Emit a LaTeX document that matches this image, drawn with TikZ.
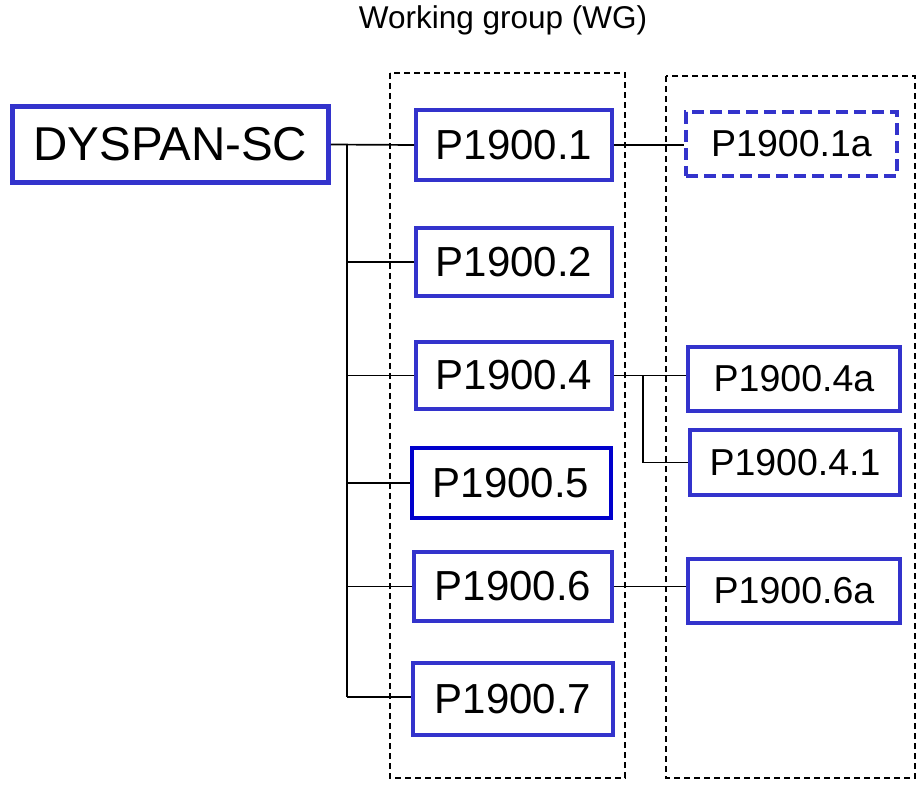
\documentclass[tikz,border=0pt]{standalone}
\usepackage{fontspec}
\setmainfont{Liberation Sans}
\definecolor{boxblue}{HTML}{3333CC}
\definecolor{deepblue}{HTML}{0000CC}
\begin{document}
\begin{tikzpicture}[x=1pt,y=-1pt,
  bbox/.style={draw=boxblue,line width=4pt,fill=white,inner sep=0pt,anchor=center},
  big/.style={font=\fontsize{42}{42}\selectfont},
  small/.style={font=\fontsize{37.5}{37.5}\selectfont},
  group/.style={draw=black,line width=1.4pt,dash pattern=on 6pt off 4pt},
  conn/.style={draw=black,line width=1.7pt}]
\useasboundingbox (0,0) rectangle (922,786);
% group boxes
\draw[group] (390,73) rectangle (625,778);
\draw[group] (666,76) rectangle (915,778);
\node[font=\fontsize{31.5}{31.5}\selectfont] (title) at (503,20) {Working group (WG)};
% nodes
\node[bbox,line width=4.5pt,minimum width=316pt,minimum height=76pt,font=\fontsize{47.5}{47.5}\selectfont] (sc) at (170.5,144.5) {DYSPAN-SC};
\node[bbox,big,minimum width=196pt,minimum height=70pt] (p1) at (514,145) {P1900.1};
\node[bbox,big,minimum width=196pt,minimum height=68pt] (p2) at (514,262) {P1900.2};
\node[bbox,big,minimum width=196pt,minimum height=67pt] (p4) at (514,375.5) {P1900.4};
\node[bbox,big,draw=deepblue,minimum width=199pt,minimum height=70pt] (p5) at (511,483) {P1900.5};
\node[bbox,big,minimum width=198pt,minimum height=69pt] (p6) at (513,586.5) {P1900.6};
\node[bbox,big,minimum width=200pt,minimum height=72pt] (p7) at (513,699) {P1900.7};
\node[bbox,small,dash pattern=on 12pt off 6pt,minimum width=211pt,minimum height=64pt] (p1a) at (791.5,144) {P1900.1a};
\node[bbox,small,minimum width=212pt,minimum height=64pt] (p4a) at (794,379) {P1900.4a};
\node[bbox,small,minimum width=210pt,minimum height=65pt] (p41) at (795,462.5) {P1900.4.1};
\node[bbox,small,minimum width=212pt,minimum height=64pt] (p6a) at (794,591) {P1900.6a};
% trunk
\coordinate (ttop) at (347,145);
\coordinate (tbot) at (347,697);
\coordinate (j4) at (643,376);
\draw[conn] (sc.east) -- (p1.west);
\draw[conn,line width=2.2pt] (ttop) -- (tbot);
\draw[conn] (ttop |- p2.west) -- (p2.west);
\draw[conn] (ttop |- p4.west) -- (p4.west);
\draw[conn] (ttop |- p5.west) -- (p5.west);
\draw[conn] (ttop |- p6.west) -- (p6.west);
\draw[conn] (tbot) -- (tbot -| p7.west);
% second level
\draw[conn] (p1.east) -- (p1.east -| p1a.west);
\draw[conn] (p4.east) -- (p4.east -| p4a.west);
\draw[conn] (j4) -- (j4 |- p41.west) -- (p41.west);
\draw[conn] (p6.east) -- (p6.east -| p6a.west);
\end{tikzpicture}
\end{document}
